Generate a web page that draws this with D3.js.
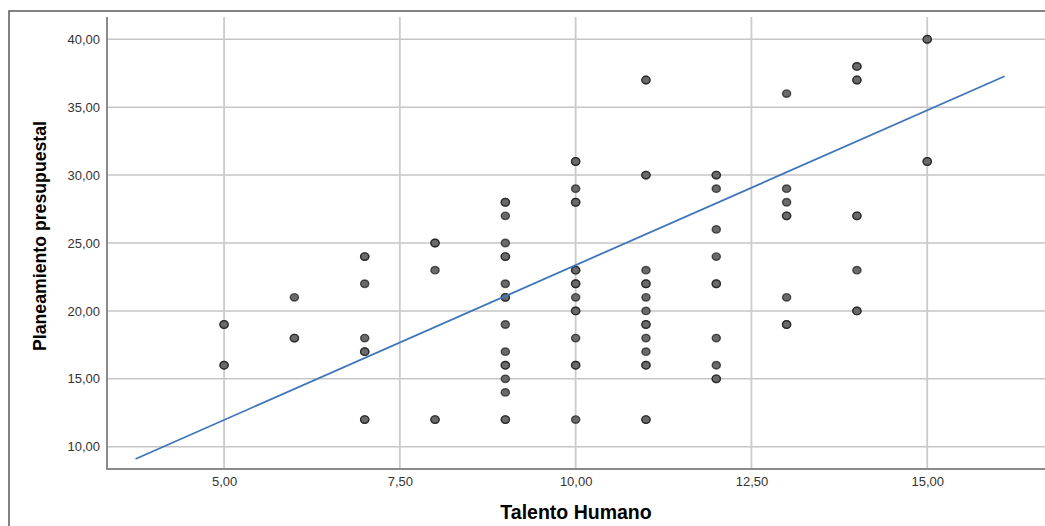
<!DOCTYPE html>
<html>
<head>
<meta charset="utf-8">
<script src="https://cdn.jsdelivr.net/npm/d3@7/dist/d3.min.js"></script>
<style>
  html, body { margin: 0; padding: 0; background: #fff; }
  svg { display: block; }
  text { font-family: "Liberation Sans", Arial, sans-serif; }
</style>
</head>
<body>
<svg id="chart" width="1045" height="526"></svg>
<script>
// ---- Data ----
const xTicks = [5, 7.5, 10, 12.5, 15];
const yTicks = [10, 15, 20, 25, 30, 35, 40];
// Talento Humano values (x) and the Planeamiento presupuestal values (y) seen at each;
// a value listed twice marks overlapping cases (darker outline in the reference)
const talento = [5, 6, 7, 8, 9, 10, 11, 12, 13, 14, 15];
const plan5  = [19, 19, 16, 16];
const plan6  = [21, 18, 18];
const plan7  = [24, 24, 22, 18, 17, 17, 12, 12];
const plan8  = [25, 25, 23, 12, 12];
const plan9  = [28, 28, 27, 25, 24, 24, 22, 21, 21, 19, 17, 16, 16, 15, 14, 12, 12];
const plan10 = [31, 31, 29, 28, 28, 23, 23, 22, 22, 21, 20, 20, 18, 16, 16, 12];
const plan11 = [37, 37, 30, 30, 23, 22, 22, 21, 20, 19, 19, 18, 17, 16, 16, 12, 12];
const plan12 = [30, 30, 29, 26, 24, 22, 22, 18, 16, 15, 15];
const plan13 = [36, 29, 28, 27, 27, 21, 19, 19];
const plan14 = [38, 38, 37, 37, 27, 27, 23, 20, 20];
const plan15 = [40, 40, 31, 31];
const planeamiento = [plan5, plan6, plan7, plan8, plan9, plan10, plan11, plan12, plan13, plan14, plan15];
// Linear fit line endpoints (x, y)
const fitX = [3.74, 16.1];
const fitY = [9.10, 37.28];

// ---- Layout ----
const svg = d3.select("#chart");
const plot = { left: 107, right: 1045, top: 17, bottom: 469 };

const x = d3.scaleLinear().domain([3.335, 16.675]).range([plot.left, plot.right]);
const y = d3.scaleLinear().domain([8.36, 41.64]).range([plot.bottom, plot.top]);
const fmt = v => d3.format(".2f")(v).replace(".", ",");

// outer frame
svg.append("path")
  .attr("d", `M9,526 L9,11 L1045,11`)
  .attr("fill", "none").attr("stroke", "#5a5a5a").attr("stroke-width", 1.5);

// gridlines
svg.append("g").selectAll("line").data(yTicks).join("line")
  .attr("x1", plot.left).attr("x2", plot.right)
  .attr("y1", d => y(d)).attr("y2", d => y(d))
  .attr("stroke", "#c6c6c6").attr("stroke-width", 1.5);
svg.append("g").selectAll("line").data(xTicks).join("line")
  .attr("x1", d => x(d)).attr("x2", d => x(d))
  .attr("y1", plot.top).attr("y2", plot.bottom)
  .attr("stroke", "#cbcbcb").attr("stroke-width", 1.8);

// axes
const yAxis = d3.axisLeft(y).tickValues(yTicks).tickFormat(fmt).tickSize(0).tickPadding(7);
const gy = svg.append("g").attr("transform", `translate(${plot.left},0)`).call(yAxis);
gy.select(".domain").remove();
gy.selectAll("text").attr("font-size", 13).attr("fill", "#333")
  .attr("font-family", "'Liberation Sans', Arial, sans-serif");

const xAxis = d3.axisBottom(x).tickValues(xTicks).tickFormat(fmt).tickSize(0).tickPadding(8);
const gx = svg.append("g").attr("transform", `translate(0,${plot.bottom})`).call(xAxis);
gx.select(".domain").remove();
gx.selectAll("text").attr("font-size", 13).attr("fill", "#333")
  .attr("font-family", "'Liberation Sans', Arial, sans-serif");

svg.append("line")
  .attr("x1", plot.left).attr("x2", plot.left)
  .attr("y1", plot.top).attr("y2", plot.bottom + 0.75)
  .attr("stroke", "#8a8a8a").attr("stroke-width", 2);
svg.append("line")
  .attr("x1", plot.left).attr("x2", plot.right)
  .attr("y1", plot.bottom).attr("y2", plot.bottom)
  .attr("stroke", "#8a8a8a").attr("stroke-width", 2);

// points
const pts = talento.flatMap((t, i) => planeamiento[i].map(v => ({ x: t, y: v })));
svg.append("g").selectAll("ellipse").data(pts).join("ellipse")
  .attr("cx", d => x(d.x)).attr("cy", d => y(d.y))
  .attr("rx", 4.1).attr("ry", 3.7)
  .attr("fill", "#6a6a6a")
  .attr("stroke", "#111").attr("stroke-opacity", 0.65).attr("stroke-width", 1.4);

// fit line
svg.append("line")
  .attr("x1", x(fitX[0])).attr("y1", y(fitY[0]))
  .attr("x2", x(fitX[1])).attr("y2", y(fitY[1]))
  .attr("stroke", "#3f76bb").attr("stroke-width", 1.8);

// axis titles
svg.append("text")
  .attr("x", 576).attr("y", 519)
  .attr("text-anchor", "middle")
  .attr("font-size", 19.5).attr("font-weight", "bold").attr("fill", "#000")
  .text("Talento Humano");
svg.append("text")
  .attr("transform", "translate(46,236) rotate(-90)")
  .attr("text-anchor", "middle")
  .attr("font-size", 17.7).attr("font-weight", "bold").attr("fill", "#000")
  .text("Planeamiento presupuestal");
</script>
</body>
</html>
